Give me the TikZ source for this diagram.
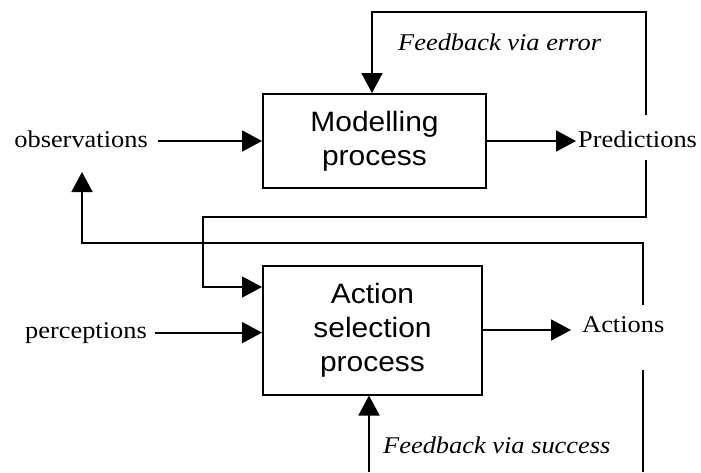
\documentclass[tikz,border=0pt]{standalone}
\usepackage{fontspec}
\setmainfont{Liberation Serif}[FakeStretch=1.1]
\newfontfamily\boxfont{Liberation Sans}[FakeStretch=1.07]
\usetikzlibrary{arrows.meta}
\begin{document}
\begin{tikzpicture}[x=1pt,y=-1pt,line join=miter,
  proc/.style={draw,line width=2pt,inner sep=0pt,align=center,
    font=\boxfont\fontsize{28}{34}\selectfont},
  lbl/.style={inner sep=0pt,font=\fontsize{24}{28}\selectfont},
  fb/.style={inner sep=0pt,font=\itshape\fontsize{24}{28}\selectfont},
  conn/.style={line width=1.8pt},
  arr/.style={conn,-{Triangle[length=20pt,width=21pt]}}]
\useasboundingbox (0,0) rectangle (701,472);
% boxes
\node[proc,minimum width=223pt,minimum height=94pt] (model) at (374.5,141) {Modelling\\process};
\node[proc,minimum width=219pt,minimum height=129pt] (act) at (372.5,330) {Action\\selection\\process};
% labels
\node[lbl,anchor=base east] (obs) at (148,147) {observations};
\node[lbl,anchor=base east] (perc) at (147,338) {perceptions};
\node[lbl,anchor=base west] (pred) at (578,147) {Predictions};
\node[lbl,anchor=base west] (acts) at (582,332) {Actions};
\node[fb,anchor=base west] (fberr) at (398,50) {Feedback via error};
\node[fb,anchor=base west] (fbsucc) at (383,453) {Feedback via success};
% free-end coordinates
\coordinate (errS) at (646,115);
\coordinate (errT) at (372,12);
\coordinate (predB) at (646,160);
\coordinate (lnk) at (203,217);
\coordinate (actT) at (643,305);
\coordinate (obsK) at (82,243);
\coordinate (obsTip) at (82,172);
\coordinate (actB) at (643,370);
\coordinate (bottomR) at (643,472);
\coordinate (succS) at (369,472);
% connectors
\draw[arr] ([xshift=10pt]obs.east |- model.west) -- (model.west);
\draw[arr] ([xshift=8pt]perc.east) -- (perc.east -| act.west);
\draw[arr,shorten >=2pt] (model.east) -- (model.east -| pred.west);
\draw[arr,shorten >=11pt] (act.east) -- (act.east -| acts.west);
\draw[arr] (errS) |- (errT) -- (errT |- model.north);
\draw[arr] (predB) |- (lnk) |- (act.west |- 0,287);
\draw[arr] (actT) |- (obsK) -- (obsTip);
\draw[conn] (actB) -- (bottomR);
\draw[arr] (succS) -- (succS |- act.south);
\end{tikzpicture}
\end{document}
